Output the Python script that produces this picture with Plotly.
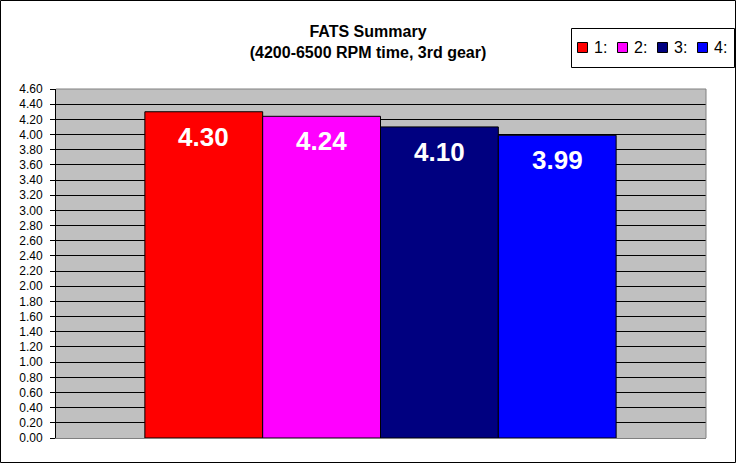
import plotly.graph_objects as go

series_names = ["1:", "2:", "3:", "4:"]
fats_times = [4.30, 4.24, 4.10, 3.99]
bar_colors = ["#FF0000", "#FF00FF", "#000080", "#0000FF"]

W, H = 736, 463
ml, mr, mt, mb = 56, 30, 89, 25
pw, ph = W - ml - mr, H - mt - mb


def px_x(x):
    return (x - ml) / pw


def px_y(y):
    return (H - mb - y) / ph


positions = list(range(len(fats_times)))

fig = go.Figure()
for pos, name, val, col in zip(positions, series_names, fats_times, bar_colors):
    fig.add_trace(go.Bar(
        name=name,
        x=[pos],
        y=[val],
        width=1,
        marker=dict(color=col, line=dict(color="black", width=1)),
        showlegend=False,
    ))

annotations = []
for pos, val in zip(positions, fats_times):
    annotations.append(dict(
        x=pos, y=val, xref="x", yref="y",
        text=f"<b>{val:.2f}</b>",
        showarrow=False, yanchor="top", yshift=-8,
        font=dict(size=26, color="white"),
    ))

# legend box drawn by hand to match the compact Excel legend
shapes = [
    dict(type="rect", xref="paper", yref="paper",
         x0=px_x(571.5), x1=px_x(734.5), y0=px_y(67.5), y1=px_y(28.5),
         line=dict(color="black", width=1), fillcolor="white"),
]
for i, (name, col) in enumerate(zip(series_names, bar_colors)):
    sx = 577 + 40 * i
    shapes.append(dict(type="rect", xref="paper", yref="paper",
                       x0=px_x(sx + 0.5), x1=px_x(sx + 10.5),
                       y0=px_y(52.5), y1=px_y(42.5),
                       line=dict(color="black", width=1), fillcolor=col))
    annotations.append(dict(
        x=px_x(sx + 15), y=px_y(47.5), xref="paper", yref="paper",
        text=name, showarrow=False, xanchor="left", yanchor="middle",
        font=dict(size=16, color="black"),
    ))

# outer chart border and plot area frame
shapes += [
    dict(type="rect", xref="paper", yref="paper",
         x0=px_x(0.5), x1=px_x(W - 0.5), y0=px_y(H - 0.5), y1=px_y(0.5),
         line=dict(color="black", width=1), layer="above"),
    dict(type="line", xref="paper", yref="paper",
         x0=1, x1=1, y0=0, y1=1, line=dict(color="#808080", width=1)),
    dict(type="line", xref="paper", yref="paper",
         x0=0, x1=1, y0=1, y1=1, line=dict(color="#808080", width=1)),
]

fig.update_layout(
    width=W, height=H,
    margin=dict(l=ml, r=mr, t=mt, b=mb),
    paper_bgcolor="white",
    plot_bgcolor="#C0C0C0",
    font=dict(family="Liberation Sans, Arial", color="black", size=12),
    barmode="overlay",
    showlegend=False,
    title=dict(
        text="<b>FATS Summary<br>(4200-6500 RPM time, 3rd gear)</b>",
        x=0.5, xref="container", xanchor="center",
        y=1 - 37 / H, yref="container", yanchor="middle",
        font=dict(size=16, color="black"),
    ),
    xaxis=dict(
        range=[-0.5 - 89 / 118, 3.5 + 90 / 118],
        showticklabels=False, ticks="",
        showline=True, linecolor="#808080", linewidth=1,
        showgrid=False, zeroline=False, fixedrange=True,
    ),
    yaxis=dict(
        range=[0, 4.6],
        dtick=0.2,
        tickformat=".2f",
        showgrid=True, gridcolor="black", gridwidth=1,
        showline=True, linecolor="black", linewidth=1,
        ticks="outside", ticklen=5, tickcolor="black",
        ticklabelstandoff=5,
        zeroline=False,
        tickfont=dict(size=12, color="black"),
    ),
    shapes=shapes,
    annotations=annotations,
)

fig.write_html("out.html", config={"displayModeBar": False},
               post_script="document.body.style.margin = '0';")
